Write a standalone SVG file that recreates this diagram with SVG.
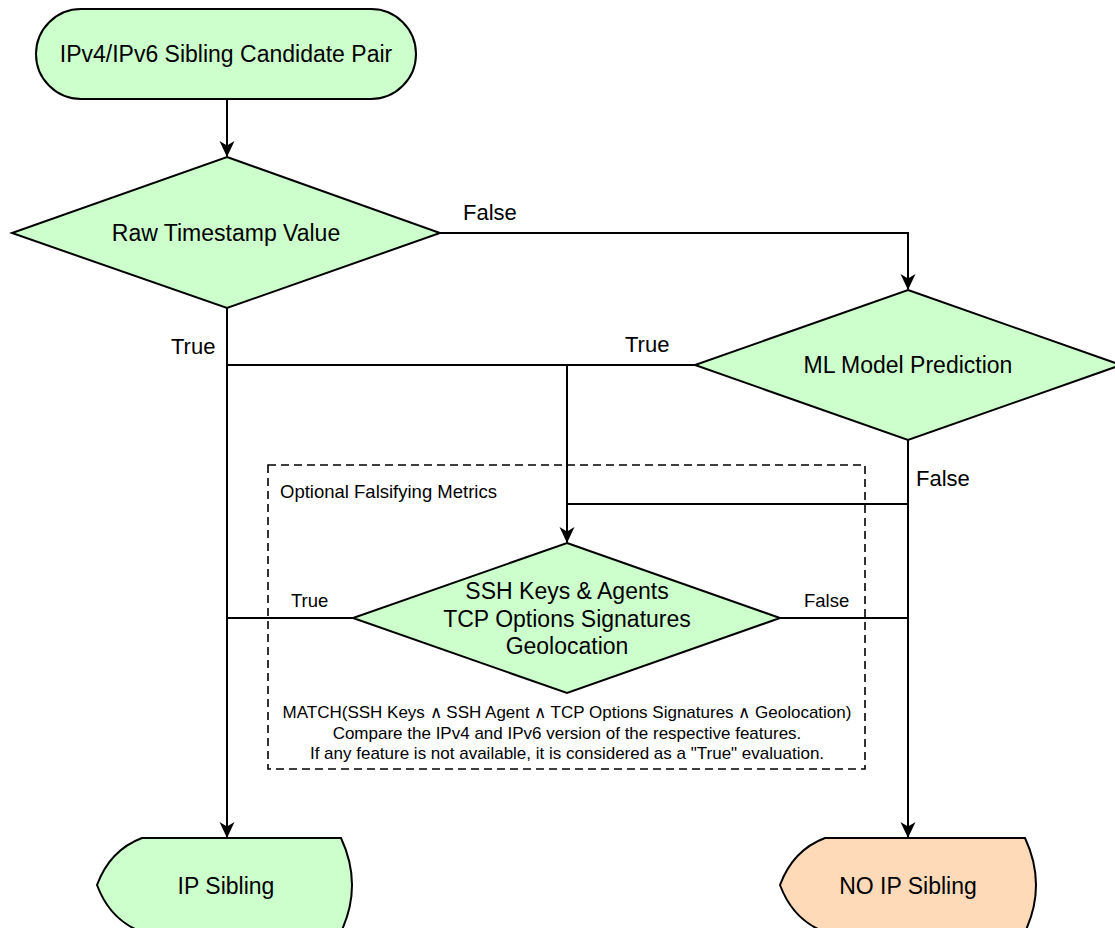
<svg xmlns="http://www.w3.org/2000/svg" width="1115" height="928" viewBox="0 0 1115 928">
  <defs>
    <marker id="arrow" markerWidth="16" markerHeight="18" refX="15" refY="9" orient="auto" markerUnits="userSpaceOnUse">
      <path d="M0,1.5 L16,9 L0,16.5 L4.5,9 Z" fill="#000"/>
    </marker>
    <style>
      .shape { stroke: #000; stroke-width: 2; }
      .green { fill: #ccffcc; }
      .peach { fill: #ffdab9; }
      .edge { fill: none; stroke: #000; stroke-width: 2; }
      text { font-family: "Liberation Sans", Arial, sans-serif; fill: #000; }
      .label { font-size: 23px; text-anchor: middle; dominant-baseline: central; }
      .elabel { font-size: 22px; }
      .slabel { font-size: 18.5px; }
      .note { font-size: 17px; text-anchor: middle; }
    </style>
  </defs>

  <rect width="1115" height="928" fill="#fff"/>

  <!-- optional metrics frame -->
  <g id="optional-metrics">
    <rect x="268" y="465" width="597" height="304" fill="none" stroke="#000" stroke-width="1.6" stroke-dasharray="8,5"/>
    <text x="280" y="498" font-size="18.5px">Optional Falsifying Metrics</text>
    <text class="note" x="567" y="718">MATCH(SSH Keys ∧ SSH Agent ∧ TCP Options Signatures ∧ Geolocation)</text>
    <text class="note" x="567" y="739">Compare the IPv4 and IPv6 version of the respective features.</text>
    <text class="note" x="567" y="759">If any feature is not available, it is considered as a "True" evaluation.</text>
  </g>

  <!-- connectors -->
  <g id="connectors">
    <path class="edge" d="M227,99 L227,156" marker-end="url(#arrow)"/>
    <path class="edge" d="M440,233 L908,233 L908,289" marker-end="url(#arrow)"/>
    <path class="edge" d="M227,308 L227,837" marker-end="url(#arrow)"/>
    <path class="edge" d="M695,365 L227,365"/>
    <path class="edge" d="M567,365 L567,542" marker-end="url(#arrow)"/>
    <path class="edge" d="M908,440 L908,837" marker-end="url(#arrow)"/>
    <path class="edge" d="M908,504 L567,504"/>
    <path class="edge" d="M353,618 L227,618"/>
    <path class="edge" d="M780,618 L908,618"/>
    <text class="elabel" x="463" y="220">False</text>
    <text class="elabel" x="171" y="354">True</text>
    <text class="elabel" x="625" y="352">True</text>
    <text class="elabel" x="916" y="486">False</text>
    <text class="slabel" x="291" y="607">True</text>
    <text class="slabel" x="804" y="607">False</text>
  </g>

  <g id="start">
    <rect class="shape green" x="36" y="9" width="380" height="90" rx="45" ry="45"/>
    <text class="label" x="226" y="54">IPv4/IPv6 Sibling Candidate Pair</text>
  </g>

  <g id="raw-timestamp">
    <polygon class="shape green" points="227,157 440,233 227,308 12,233"/>
    <text class="label" x="226" y="233">Raw Timestamp Value</text>
  </g>

  <g id="ml-model">
    <polygon class="shape green" points="908,290 1121,365 908,440 695,365"/>
    <text class="label" x="908" y="365">ML Model Prediction</text>
  </g>

  <g id="ssh-tcp-geo">
    <polygon class="shape green" points="567,543 780,618 567,693 353,618"/>
    <text class="label" x="567" y="591">SSH Keys &amp; Agents</text>
    <text class="label" x="567" y="619">TCP Options Signatures</text>
    <text class="label" x="567" y="646">Geolocation</text>
  </g>

  <g id="ip-sibling">
    <path class="shape green" d="M142,838 L341,838 Q363,885 341,932 L142,932 Q110,920 97,885 Q110,850 142,838 Z"/>
    <text class="label" x="226" y="886">IP Sibling</text>
  </g>

  <g id="no-ip-sibling">
    <path class="shape peach" d="M825,838 L1025,838 Q1047,885 1025,932 L825,932 Q793,920 780,885 Q793,850 825,838 Z"/>
    <text class="label" x="908" y="886">NO IP Sibling</text>
  </g>
</svg>
